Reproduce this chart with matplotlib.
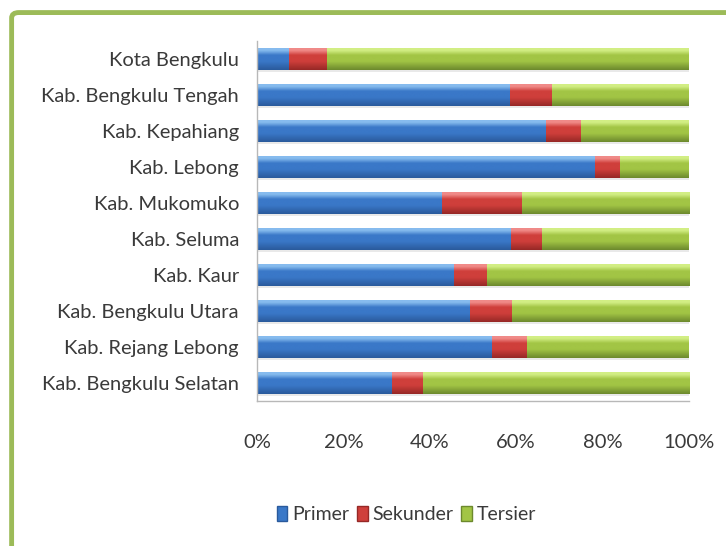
import numpy as np
import matplotlib
matplotlib.use("Agg")
import matplotlib.pyplot as plt
from matplotlib.colors import LinearSegmentedColormap
from matplotlib.patches import FancyBboxPatch, Rectangle

plt.rcParams['font.family'] = ['Lato', 'DejaVu Sans']

regions = ["Kota Bengkulu", "Kab. Bengkulu Tengah", "Kab. Kepahiang", "Kab. Lebong",
           "Kab. Mukomuko", "Kab. Seluma", "Kab. Kaur", "Kab. Bengkulu Utara",
           "Kab. Rejang Lebong", "Kab. Bengkulu Selatan"]
primer   = [7.3, 58.5, 67.0, 78.3, 42.8, 58.8, 45.7, 49.2, 54.5, 31.2]
sekunder = [9.0,  9.8,  8.0,  5.8, 18.5,  7.2,  7.5,  9.8,  8.1,  7.2]
tersier  = [100 - p - s for p, s in zip(primer, sekunder)]
series_names = ["Primer", "Sekunder", "Tersier"]
xticks = [0, 20, 40, 60, 80, 100]

# (top highlight, mid, bottom shade) for each series
shades = {
    "Primer":   ("#86bbee", "#3a78c8", "#2a5a9c"),
    "Sekunder": ("#f08a88", "#cf3f3b", "#962826"),
    "Tersier":  ("#d2ee84", "#a2c545", "#6c892d"),
}

fig = plt.figure(figsize=(7.26, 5.46), dpi=100)
fig.patch.set_facecolor("white")

# green frame round the chart area
frame = FancyBboxPatch((0.016, -0.05), 1.2, 1.027, boxstyle="round,pad=0,rounding_size=0.01",
                       transform=fig.transFigure, facecolor="none",
                       edgecolor="#9cbb58", linewidth=3.5, zorder=0)
fig.patches.append(frame)

ax = fig.add_axes([0.354, 0.2656, 0.595, 0.6594])
ax.set_facecolor("none")

n = len(regions)
y = np.arange(n)
height = 0.61
data = [primer, sekunder, tersier]

for name, vals, left in zip(series_names, data,
                            [np.zeros(n), np.array(primer), np.array(primer) + np.array(sekunder)]):
    hi, mid, lo = shades[name]
    cmap = LinearSegmentedColormap.from_list(
        name, [(0, hi), (0.1, hi), (0.32, mid), (0.6, mid), (1, lo)])
    grad = np.linspace(0, 1, 64).reshape(-1, 1)
    for yi, v, l in zip(y, vals, left):
        # soft shadow under each segment
        ax.add_patch(Rectangle((l, yi - height / 2 + 0.07), v, height, facecolor="#cfcfcf",
                               edgecolor="none", alpha=0.45, zorder=1))
        ax.imshow(grad, cmap=cmap, aspect="auto", interpolation="bilinear",
                  extent=(l, l + v, yi + height / 2, yi - height / 2), zorder=2)

ax.set_xlim(0, 100)
ax.set_ylim(n - 0.5, -0.5)
ax.set_yticks(y)
ax.set_yticklabels(regions, fontsize=14.5, color="#3a3a3a")
ax.set_xticks(xticks)
ax.set_xticklabels([f"{t}%" for t in xticks], fontsize=14.5, color="#3a3a3a")
ax.tick_params(axis="y", length=0, pad=13)
ax.tick_params(axis="x", length=0, pad=24)
for s in ["top", "right"]:
    ax.spines[s].set_visible(False)
for s in ["left", "bottom"]:
    ax.spines[s].set_color("#b8b8b8")
    ax.spines[s].set_linewidth(1.0)

handles = [Rectangle((0, 0), 1, 1, facecolor=shades[nm][1], edgecolor=shades[nm][2]) for nm in series_names]
fig.legend(handles, series_names, loc="center", bbox_to_anchor=(0.56, 0.058), ncol=3,
           frameon=False, fontsize=14, handlelength=0.55, handleheight=0.8,
           handletextpad=0.25, columnspacing=0.4, labelcolor="#3a3a3a")

fig.savefig("out.png", dpi=100, facecolor="white")
